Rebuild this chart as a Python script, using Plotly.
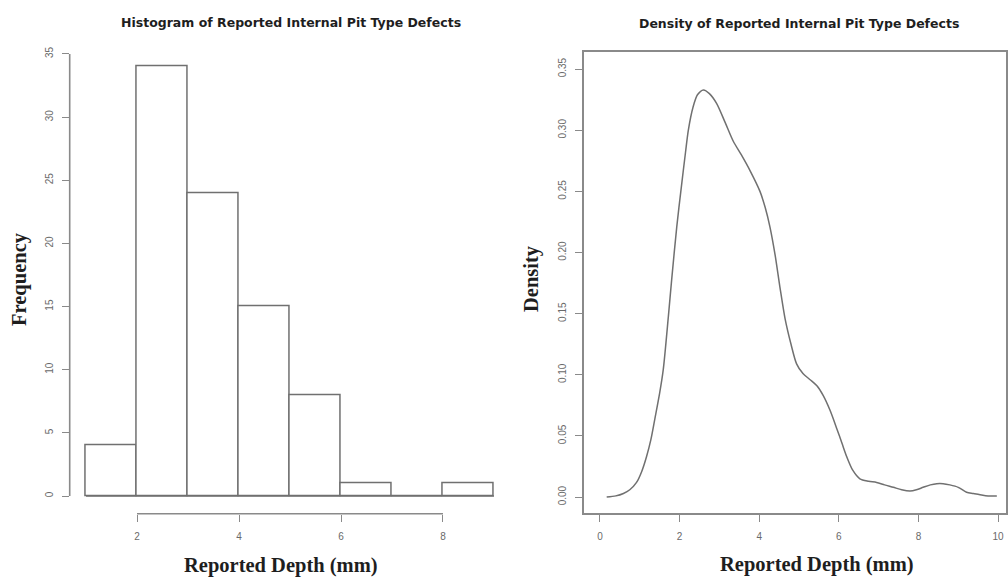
import plotly.graph_objects as go

# Histogram of reported depths (bin edges in mm and counts per bin)
bin_edges = [1, 2, 3, 4, 5, 6, 7, 8, 9]
counts = [4, 34, 24, 15, 8, 1, 0, 1]

# Kernel density estimate of the same depths
density_x = [0.17, 0.40, 0.59, 0.75, 0.92, 1.05, 1.17, 1.28, 1.38, 1.50, 1.59,
             1.72, 1.80, 1.93, 2.05, 2.15, 2.22, 2.34, 2.45, 2.60, 2.75, 2.93,
             3.15, 3.35, 3.55, 3.77, 4.02, 4.15, 4.27, 4.40, 4.52, 4.65, 4.80,
             4.94, 5.10, 5.28, 5.45, 5.61, 5.78, 5.95, 6.08, 6.20, 6.35, 6.53,
             6.75, 6.95, 7.15, 7.37, 7.58, 7.79, 7.95, 8.12, 8.30, 8.46, 8.62,
             8.79, 9.00, 9.21, 9.38, 9.55, 9.75, 9.97]
density_y = [0.000, 0.001, 0.003, 0.006, 0.012, 0.021, 0.033, 0.047, 0.064, 0.085, 0.104,
             0.148, 0.177, 0.221, 0.255, 0.282, 0.300, 0.319, 0.329, 0.333, 0.330, 0.322,
             0.306, 0.291, 0.280, 0.267, 0.250, 0.237, 0.221, 0.198, 0.172, 0.146, 0.125,
             0.109, 0.101, 0.096, 0.091, 0.083, 0.071, 0.056, 0.044, 0.033, 0.022, 0.015,
             0.013, 0.012, 0.010, 0.008, 0.006, 0.005, 0.006, 0.008, 0.010, 0.011, 0.011,
             0.010, 0.008, 0.004, 0.003, 0.002, 0.001, 0.001]

hist_xticks = [2, 4, 6, 8]
hist_yticks = [0, 5, 10, 15, 20, 25, 30, 35]
dens_xticks = [0, 2, 4, 6, 8, 10]
dens_yticks = [0.00, 0.05, 0.10, 0.15, 0.20, 0.25, 0.30, 0.35]

title_left = "Histogram of Reported Internal Pit Type Defects"
title_right = "Density of Reported Internal Pit Type Defects"
xlabel = "Reported Depth (mm)"

W, H = 1008, 577
AXIS = "#8a8a8a"
MARK = "#707070"
TICKFONT = dict(family="Liberation Sans", size=10, color="#6a6a6a")
TITLEFONT = dict(family="DejaVu Sans", size=12.5, color="#1e1e1e", weight="bold")
LABELFONT = dict(family="Liberation Serif", size=20.5, color="#1e1e1e", weight="bold")

mids = [(a + b) / 2 for a, b in zip(bin_edges[:-1], bin_edges[1:])]
widths = [b - a for a, b in zip(bin_edges[:-1], bin_edges[1:])]

fig = go.Figure()
fig.add_trace(go.Bar(
    x=mids, y=counts, width=widths,
    marker=dict(color="white", line=dict(color=MARK, width=1.5)),
    xaxis="x", yaxis="y", showlegend=False, hoverinfo="skip",
))
fig.add_trace(go.Scatter(
    x=density_x, y=density_y, mode="lines",
    line=dict(color=MARK, width=1.5, shape="spline", smoothing=0.8),
    xaxis="x2", yaxis="y2", showlegend=False, hoverinfo="skip",
))


def px_x(p):
    return p / W


def px_y(p):
    return 1 - p / H


common = dict(showgrid=False, zeroline=False, ticks="outside", ticklen=7,
              tickwidth=1.3, tickcolor=AXIS, tickfont=TICKFONT)

fig.update_layout(
    width=W, height=H,
    margin=dict(l=0, r=0, t=0, b=0),
    paper_bgcolor="white", plot_bgcolor="white",
    bargap=0,
    xaxis=dict(domain=[px_x(69.7), px_x(510.3)], range=[0.68, 9.32],
               tickvals=hist_xticks, showline=False, anchor="y",
               ticklabelstandoff=6, **common),
    yaxis=dict(domain=[px_y(513.7), px_y(36.3)], range=[-1.4, 36.4],
               tickvals=hist_yticks, tickangle=-90, showline=False, anchor="x",
               ticklabelstandoff=5, **common),
    xaxis2=dict(domain=[px_x(584), px_x(1006)], range=[-0.4, 10.2],
                tickvals=dens_xticks, showline=True, mirror=True,
                linecolor=AXIS, linewidth=1.6, anchor="y2",
                ticklabelstandoff=6, **common),
    yaxis2=dict(domain=[px_y(513), px_y(52)], range=[-0.013, 0.364],
                tickvals=dens_yticks, tickformat=".2f", tickangle=-90,
                showline=True, mirror=True, linecolor=AXIS, linewidth=1.6,
                anchor="x2", ticklabelstandoff=5, **common),
)

# Bottom edges of the histogram bins, including empty ones
fig.add_shape(type="line", xref="x", yref="y",
              x0=bin_edges[0], x1=bin_edges[-1], y0=0, y1=0,
              line=dict(color=MARK, width=1.5))

# R-style axis lines on the histogram, spanning only the tick range
fig.add_shape(type="line", xref="x", yref="y domain",
              x0=hist_xticks[0], x1=hist_xticks[-1], y0=0, y1=0,
              line=dict(color=AXIS, width=1.6))
fig.add_shape(type="line", xref="x domain", yref="y",
              x0=0, x1=0, y0=hist_yticks[0], y1=hist_yticks[-1],
              line=dict(color=AXIS, width=1.6))

annotations = [
    dict(text=title_left, x=px_x(291), y=px_y(22), font=TITLEFONT),
    dict(text=title_right, x=px_x(799), y=px_y(23.5), font=TITLEFONT),
    dict(text=xlabel, x=px_x(281), y=px_y(565), font=LABELFONT),
    dict(text=xlabel, x=px_x(817), y=px_y(564), font=LABELFONT),
    dict(text="Frequency", x=px_x(20), y=px_y(279), font=LABELFONT, textangle=-90),
    dict(text="Density", x=px_x(532), y=px_y(279), font=LABELFONT, textangle=-90),
]
for a in annotations:
    fig.add_annotation(xref="paper", yref="paper", xanchor="center",
                       yanchor="middle", showarrow=False, **a)

fig.write_html("out.html")
